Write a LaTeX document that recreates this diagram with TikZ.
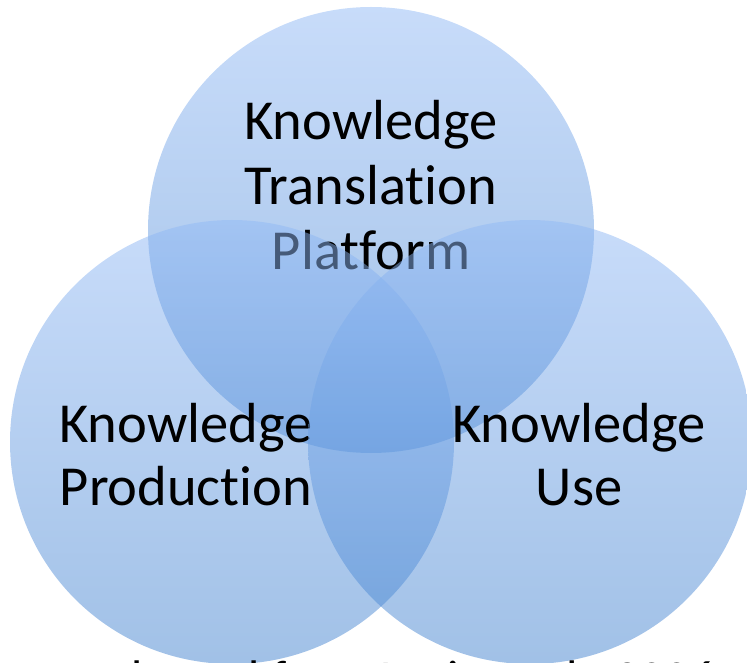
\documentclass[tikz,border=0pt]{standalone}
\usepackage{fontspec}
\setmainfont{Carlito}[Ligatures={NoCommon}]
\definecolor{vtop}{RGB}{145,185,245}
\definecolor{vbot}{RGB}{67,131,207}
\begin{document}
\begin{tikzpicture}[x=1pt,y=1pt,
  venn/.style={circle, inner sep=0pt, minimum size=#1, top color=vtop, bottom color=vbot, fill opacity=0.5, draw=none},
  lbl/.style={anchor=base, font=\fontsize{56.5}{65}\selectfont, text=black, inner sep=0pt},
  srcstyle/.style={anchor=base west, font=\fontsize{50}{60}\selectfont, text=black, inner sep=0pt}
]
\useasboundingbox (0,0) rectangle (747,662);
\clip (0,0) rectangle (747,662);
% top circle and its text
\node[venn=446pt] (ktp) at (371,432) {};
\node[lbl] (t1) at (371,522) {Knowledge};
\node[lbl] (t2) at (371,457) {Translation};
\node[lbl] (t3) at (371,392) {Platform};
% left circle
\node[venn=444pt] (kp) at (232,220) {};
\node[lbl] (p1) at (186,219) {Knowledge};
\node[lbl] (p2) at (186,157) {Production};
% right circle
\node[venn=444pt] (ku) at (530,220) {};
\node[lbl] (u1) at (579,219) {Knowledge};
\node[lbl] (u2) at (579,157) {Use};
% caption, cut off at the bottom edge
\node[srcstyle] (src) at (92,-33) {adapted from Lavis et al., 2006};
\end{tikzpicture}
\end{document}
